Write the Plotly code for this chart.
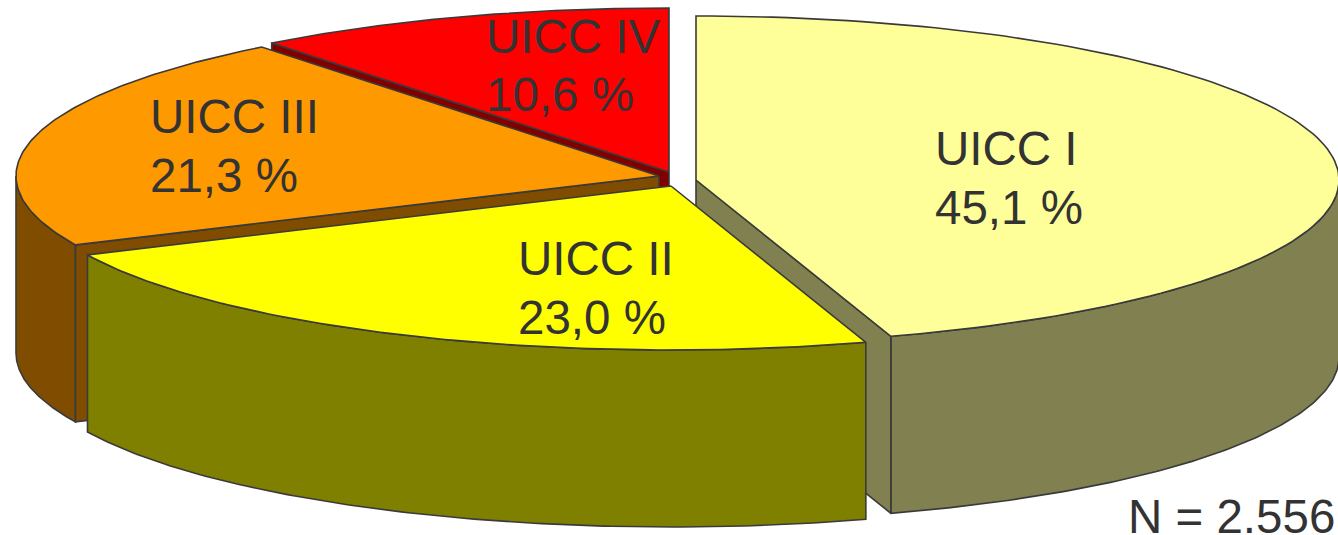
import numpy as np
import plotly.graph_objects as go

categories = ["UICC I", "UICC II", "UICC III", "UICC IV"]
percent_values = [45.1, 23.0, 21.3, 10.6]
percent_labels = ["45,1 %", "23,0 %", "21,3 %", "10,6 %"]
note = "N = 2.556"

top_colors = ["#FFFF99", "#FFFF00", "#FF9900", "#FF0000"]
side_colors = ["#808050", "#808000", "#804C00", "#800000"]
apex_x = [696, 671, 659, 669]
apex_y = [180, 186, 176, 172]
label_x = [933, 516, 148, 484]
name_y = [148, 258, 116, 36]
pct_y = [207, 317, 175, 94]

W, H = 1338, 535
RX, RY, DEPTH = 643, 164, 177
LINE = "#3a3a3a"

fractions = np.array(percent_values) / sum(percent_values)
edges = np.concatenate([[0], np.cumsum(fractions)]) * 2 * np.pi


def rim(i, a0, a1, n=120):
    t = np.linspace(a0, a1, n)
    return apex_x[i] + RX * np.sin(t), apex_y[i] - RY * np.cos(t)


fig = go.Figure()


def poly(xs, ys, fill):
    fig.add_trace(go.Scatter(
        x=list(xs), y=list(ys), mode="lines", fill="toself", fillcolor=fill,
        line=dict(color=LINE, width=1.6), hoverinfo="skip", showlegend=False))


def outer_side(i):
    a0 = max(edges[i], np.pi / 2)
    a1 = min(edges[i + 1], 3 * np.pi / 2)
    if a1 <= a0:
        return
    x, y = rim(i, a0, a1)
    poly(np.r_[x, x[::-1], x[0]], np.r_[y, y[::-1] + DEPTH, y[0]], side_colors[i])


def cut_wall(i, angle):
    x, y = rim(i, angle, angle, 1)
    ax, ay = apex_x[i], apex_y[i]
    poly([ax, x[0], x[0], ax, ax], [ay, y[0], y[0] + DEPTH, ay + DEPTH, ay], side_colors[i])


def top(i):
    x, y = rim(i, edges[i], edges[i + 1])
    poly(np.r_[apex_x[i], x, apex_x[i]], np.r_[apex_y[i], y, apex_y[i]], top_colors[i])


# painter's order, back to front
cut_wall(3, edges[3]); top(3)
outer_side(2); cut_wall(2, edges[2]); top(2)
outer_side(0); cut_wall(0, edges[1]); top(0)
outer_side(1); top(1)

font = dict(family="Liberation Sans, Arial", size=47.5, color="#333333")
for c, p, x, y0, y1 in zip(categories, percent_labels, label_x, name_y, pct_y):
    fig.add_annotation(x=x, y=y0, text=c, showarrow=False, xanchor="left", font=font)
    fig.add_annotation(x=x, y=y1, text=p, showarrow=False, xanchor="left", font=font)
fig.add_annotation(x=1337, y=516, text=note, showarrow=False, xanchor="right", font=font)

fig.update_layout(
    width=W, height=H, margin=dict(l=0, r=0, t=0, b=0),
    paper_bgcolor="white", plot_bgcolor="white", showlegend=False,
    xaxis=dict(range=[0, W], visible=False, fixedrange=True),
    yaxis=dict(range=[H, 0], visible=False, fixedrange=True),
)
fig.write_html("out.html", config={"displayModeBar": False},
               post_script="document.body.style.margin='0';document.body.style.overflow='hidden';")
